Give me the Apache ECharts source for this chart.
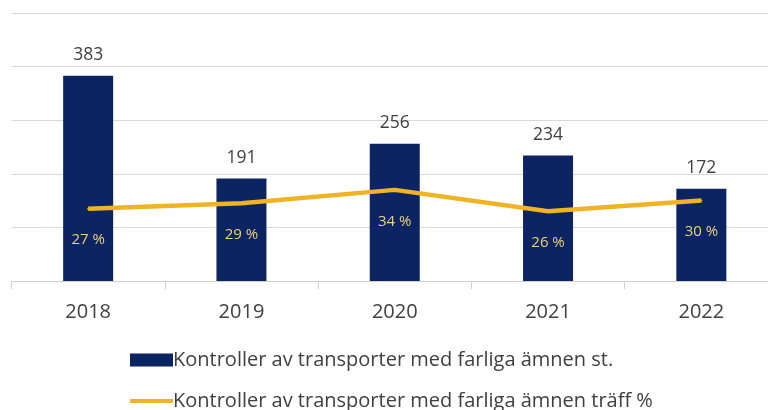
<!DOCTYPE html>
<html><head><meta charset="utf-8">
<script src="https://cdn.jsdelivr.net/npm/echarts@6/dist/echarts.min.js"></script>
<style>html,body{margin:0;padding:0;background:#fff}#c{width:768px;height:410px}</style>
</head><body><div id="c"></div>
<script>
var categories = ['2018', '2019', '2020', '2021', '2022'];
var controls = [383, 191, 256, 234, 172];
var hitRate = [27, 29, 34, 26, 30];
var barName = 'Kontroller av transporter med farliga ämnen st.';
var lineName = 'Kontroller av transporter med farliga ämnen träff %';

var legendText = {fontSize: 20, lineHeight: 20, color: '#404040', padding: [0, 0, 0, -5]};
var chart = echarts.init(document.getElementById('c'), null, {renderer: 'canvas'});
chart.setOption({
  animation: false,
  textStyle: {fontFamily: 'Open Sans'},
  grid: {left: 11.5, width: 766.5, top: 13, height: 268, containLabel: false, outerBoundsMode: 'none'},
  legend: [{
    orient: 'horizontal', left: 130, top: 350, padding: 0,
    itemWidth: 43, itemHeight: 13, textStyle: legendText,
    data: [{name: barName, icon: 'rect'}]
  }, {
    orient: 'horizontal', left: 130, top: 391, padding: 0,
    itemWidth: 43, itemHeight: 13, textStyle: legendText,
    data: [{name: lineName, icon: 'path://M0,0H43V4H0Z'}]
  }],
  xAxis: {
    type: 'category', data: categories, boundaryGap: true,
    axisLine: {lineStyle: {color: '#d0d0d0', width: 1}},
    axisTick: {show: true, length: 8, lineStyle: {color: '#d0d0d0'}},
    axisLabel: {fontSize: 20, color: '#404040', margin: 21}
  },
  yAxis: [{
    type: 'value', min: 0, max: 500, interval: 100,
    axisLabel: {show: false}, axisLine: {show: false}, axisTick: {show: false},
    splitLine: {lineStyle: {color: '#d9d9d9', width: 1}}
  }, {
    type: 'value', min: 0, max: 100, interval: 20,
    axisLabel: {show: false}, axisLine: {show: false}, axisTick: {show: false},
    splitLine: {show: false}
  }],
  series: [{
    name: barName, type: 'bar', data: controls, barWidth: 50,
    itemStyle: {color: '#0c2461'},
    label: {show: true, position: 'top', distance: 12, fontSize: 17.5, color: '#404040'}
  }, {
    name: lineName, type: 'line', yAxisIndex: 1, data: hitRate,
    symbol: 'circle', symbolSize: 2, showSymbol: true, smooth: false,
    lineStyle: {color: '#f0b323', width: 4.5},
    itemStyle: {color: '#f0b323'},
    label: {show: true, position: 'bottom', distance: 23, fontSize: 15, color: '#ecd27a',
      formatter: function (p) { return p.value + ' %'; }}
  }]
});
</script></body></html>
